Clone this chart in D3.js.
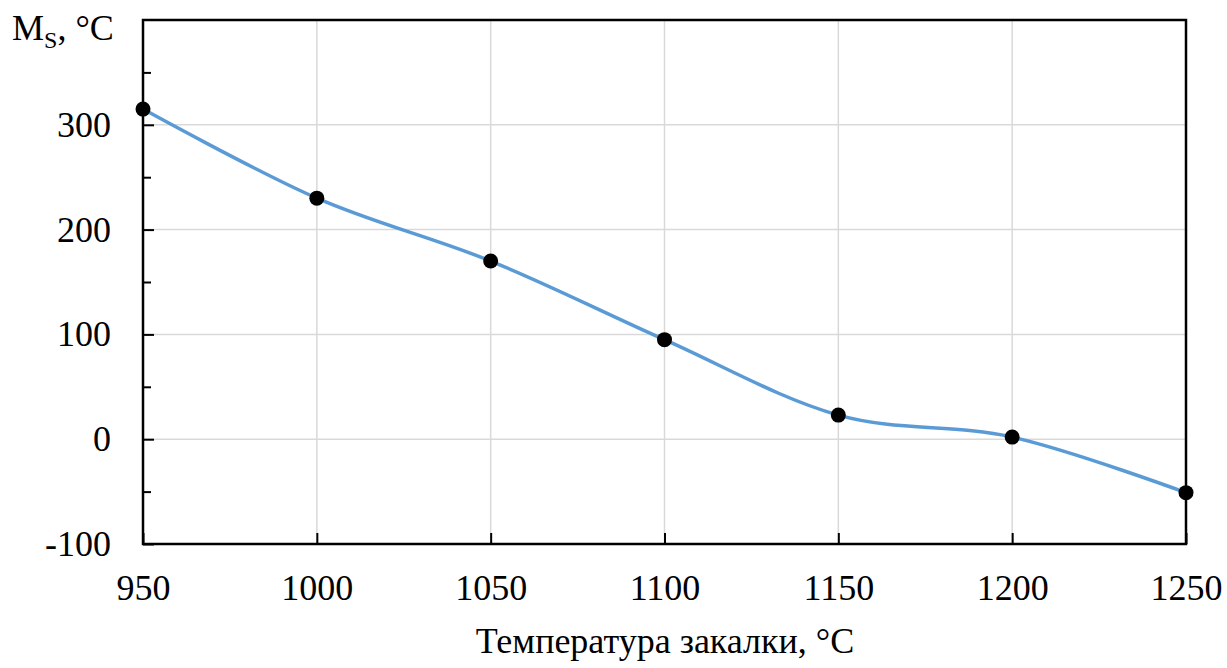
<!DOCTYPE html>
<html><head><meta charset="utf-8">
<script src="https://cdn.jsdelivr.net/npm/d3@7"></script>
<style>body{margin:0;background:#fff}svg{display:block}text{font-family:"Liberation Serif","Times New Roman","DejaVu Serif",serif;fill:#000}</style>
</head><body>
<svg id="c" width="1227" height="668"></svg>
<script>
const temps = [950, 1000, 1050, 1100, 1150, 1200, 1250];
const msValues = [315, 230, 170, 95, 23, 2, -51];
const xTicks = [950, 1000, 1050, 1100, 1150, 1200, 1250];
const yTicks = [-100, 0, 100, 200, 300];
const yMinor = [-50, 50, 150, 250, 350];
const xTitle = "Температура закалки, °C";

const svg = d3.select("#c");
const L = 143, R = 1186, T = 20, B = 544;
const x = d3.scaleLinear().domain([950, 1250]).range([L, R]);
const y = d3.scaleLinear().domain([-100, 400]).range([B, T]);

// grid
svg.append("g").selectAll("line").data(xTicks.slice(1, -1)).join("line")
  .attr("x1", d => x(d)).attr("x2", d => x(d)).attr("y1", T).attr("y2", B)
  .attr("stroke", "#d9d9d9").attr("stroke-width", 1.5);
svg.append("g").selectAll("line").data(yTicks.slice(1)).join("line")
  .attr("x1", L).attr("x2", R).attr("y1", d => y(d)).attr("y2", d => y(d))
  .attr("stroke", "#d9d9d9").attr("stroke-width", 1.5);

// axes with inward ticks
const xAxis = d3.axisBottom(x).tickValues(xTicks).tickSize(-11).tickPadding(38).tickFormat(d => String(d));
const gx = svg.append("g").attr("transform", `translate(0,${B})`).call(xAxis);
gx.select(".domain").remove();
gx.selectAll(".tick line").attr("stroke", "#000").attr("stroke-width", 2);
gx.selectAll(".tick text").attr("font-size", 36).attr("dy", "0.5em");

const yAxis = d3.axisLeft(y).tickValues(yTicks).tickSize(-11).tickPadding(32).tickFormat(d => String(d));
const gy = svg.append("g").attr("transform", `translate(${L},0)`).call(yAxis);
gy.select(".domain").remove();
gy.selectAll(".tick line").attr("stroke", "#000").attr("stroke-width", 2);
gy.selectAll(".tick text").attr("font-size", 36);

const yAxisMinor = d3.axisLeft(y).tickValues(yMinor).tickSize(-8).tickFormat("");
const gym = svg.append("g").attr("transform", `translate(${L},0)`).call(yAxisMinor);
gym.select(".domain").remove();
gym.selectAll(".tick line").attr("stroke", "#000").attr("stroke-width", 2);

// frame
svg.append("rect").attr("x", L).attr("y", T).attr("width", R - L).attr("height", B - T)
  .attr("fill", "none").attr("stroke", "#000").attr("stroke-width", 2.5);

// line
const line = d3.line().x((d, i) => x(temps[i])).y(d => y(d)).curve(d3.curveCatmullRom.alpha(0));
svg.append("path").datum(msValues).attr("d", line)
  .attr("fill", "none").attr("stroke", "#5b9bd5").attr("stroke-width", 3.5);

svg.append("g").selectAll("circle").data(msValues).join("circle")
  .attr("cx", (d, i) => x(temps[i])).attr("cy", d => y(d)).attr("r", 7.5).attr("fill", "#000");

// titles
svg.append("text").attr("x", 665).attr("y", 653).attr("text-anchor", "middle")
  .attr("font-size", 36).text(xTitle);
const yt = svg.append("text").attr("x", 12).attr("y", 40).attr("font-size", 36);
yt.append("tspan").text("M");
yt.append("tspan").attr("font-size", 24).attr("dy", 8).text("S");
yt.append("tspan").attr("dy", -8).text(", °C");
</script>
</body></html>
